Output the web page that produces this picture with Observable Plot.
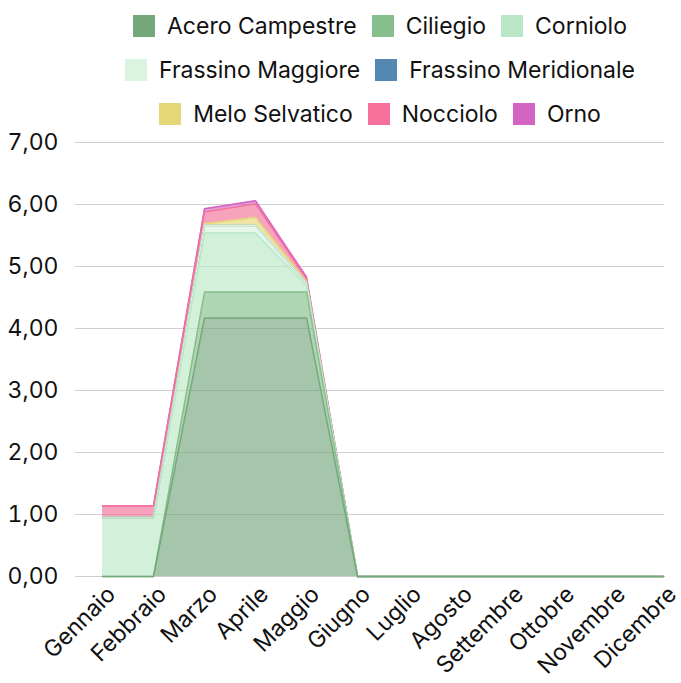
<!DOCTYPE html>
<html>
<head>
<meta charset="utf-8">
<script src="https://cdn.jsdelivr.net/npm/d3@7"></script>
<script src="https://cdn.jsdelivr.net/npm/@observablehq/plot@0.6"></script>
<style>
  html, body { margin: 0; padding: 0; background: #fff; }
  body { width: 681px; height: 683px; overflow: hidden; font-family: Inter, "Noto Sans", sans-serif; position: relative; }
  #legend { position: absolute; top: 14px; left: 95px; width: 570px; display: flex; flex-wrap: wrap; justify-content: center; row-gap: 20px; column-gap: 15px; font-size: 23px; color: #111; z-index: 1; }
  .item { display: flex; align-items: center; height: 24px; }
  .sw { width: 22px; height: 22px; margin-right: 12px; }
  #chart { position: absolute; top: 115px; left: 0; }
</style>
</head>
<body>
<div id="legend"></div>
<div id="chart"></div>
<script>
const months = ["Gennaio","Febbraio","Marzo","Aprile","Maggio","Giugno","Luglio","Agosto","Settembre","Ottobre","Novembre","Dicembre"];
const seriesNames = ["Acero Campestre","Ciliegio","Corniolo","Frassino Maggiore","Frassino Meridionale","Melo Selvatico","Nocciolo","Orno"];
const seriesColors = ["#74a87c","#86bf8b","#bae8c6","#daf4e0","#5587b3","#e5d677","#f5719b","#d464c4"];
const aceroCampestre      = [0,    0,    4.17, 4.17, 4.17, 0,0,0,0,0,0,0];
const ciliegio            = [0,    0,    0.42, 0.42, 0.42, 0,0,0,0,0,0,0];
const corniolo            = [0.95, 0.95, 0.95, 0.95, 0.10, 0,0,0,0,0,0,0];
const frassinoMaggiore    = [0,    0,    0.12, 0.12, 0.04, 0,0,0,0,0,0,0];
const frassinoMeridionale = [0,    0,    0,    0,    0,    0,0,0,0,0,0,0];
const meloSelvatico       = [0,    0,    0.03, 0.13, 0.03, 0,0,0,0,0,0,0];
const nocciolo            = [0.19, 0.19, 0.19, 0.22, 0.04, 0,0,0,0,0,0,0];
const orno                = [0,    0,    0.05, 0.05, 0.03, 0,0,0,0,0,0,0];
const yTicks = [0,1,2,3,4,5,6,7];

const seriesValues = [aceroCampestre, ciliegio, corniolo, frassinoMaggiore, frassinoMeridionale, meloSelvatico, nocciolo, orno];
const data = [];
seriesNames.forEach((s, i) => months.forEach((m, j) => data.push({serie: s, mese: m, valore: seriesValues[i][j], idx: i})));
// lines drawn top series first so lower series end up on top where they coincide
const lineData = data.slice().sort((a, b) => b.idx - a.idx);

const legend = document.getElementById("legend");
seriesNames.forEach((s, i) => {
  const it = document.createElement("div");
  it.className = "item";
  it.innerHTML = `<div class="sw" style="background:${seriesColors[i]}"></div><span>${s}</span>`;
  legend.appendChild(it);
});

const fmt = d => d3.format(".2f")(d).replace(".", ",");

const chart = Plot.plot({
  width: 681,
  height: 568,
  marginTop: 27,
  marginBottom: 107,
  marginLeft: 75,
  marginRight: 17,
  style: {fontFamily: "Inter, 'Noto Sans', sans-serif", fontSize: "23px", color: "#111", overflow: "visible"},
  x: {type: "point", domain: months, padding: 0, insetLeft: 25, label: null},
  y: {domain: [0, 7], ticks: yTicks, tickFormat: fmt, label: null, tickSize: 0, tickPadding: 17},
  color: {domain: seriesNames, range: seriesColors},
  marks: [
    Plot.gridY(yTicks, {stroke: "#cfcfcf", strokeOpacity: 1, strokeWidth: 1}),
    Plot.areaY(data, Plot.stackY({x: "mese", y: "valore", z: "serie", fill: "serie", fillOpacity: 0.65, order: seriesNames})),
    Plot.lineY(lineData, Plot.stackY2({x: "mese", y: "valore", z: "serie", stroke: "serie", strokeWidth: 1.5, order: seriesNames})),
    Plot.axisX({tickSize: 0, tickRotate: -45, tickPadding: 14, dx: 9, label: null}),
  ]
});
document.getElementById("chart").appendChild(chart);
</script>
</body>
</html>
